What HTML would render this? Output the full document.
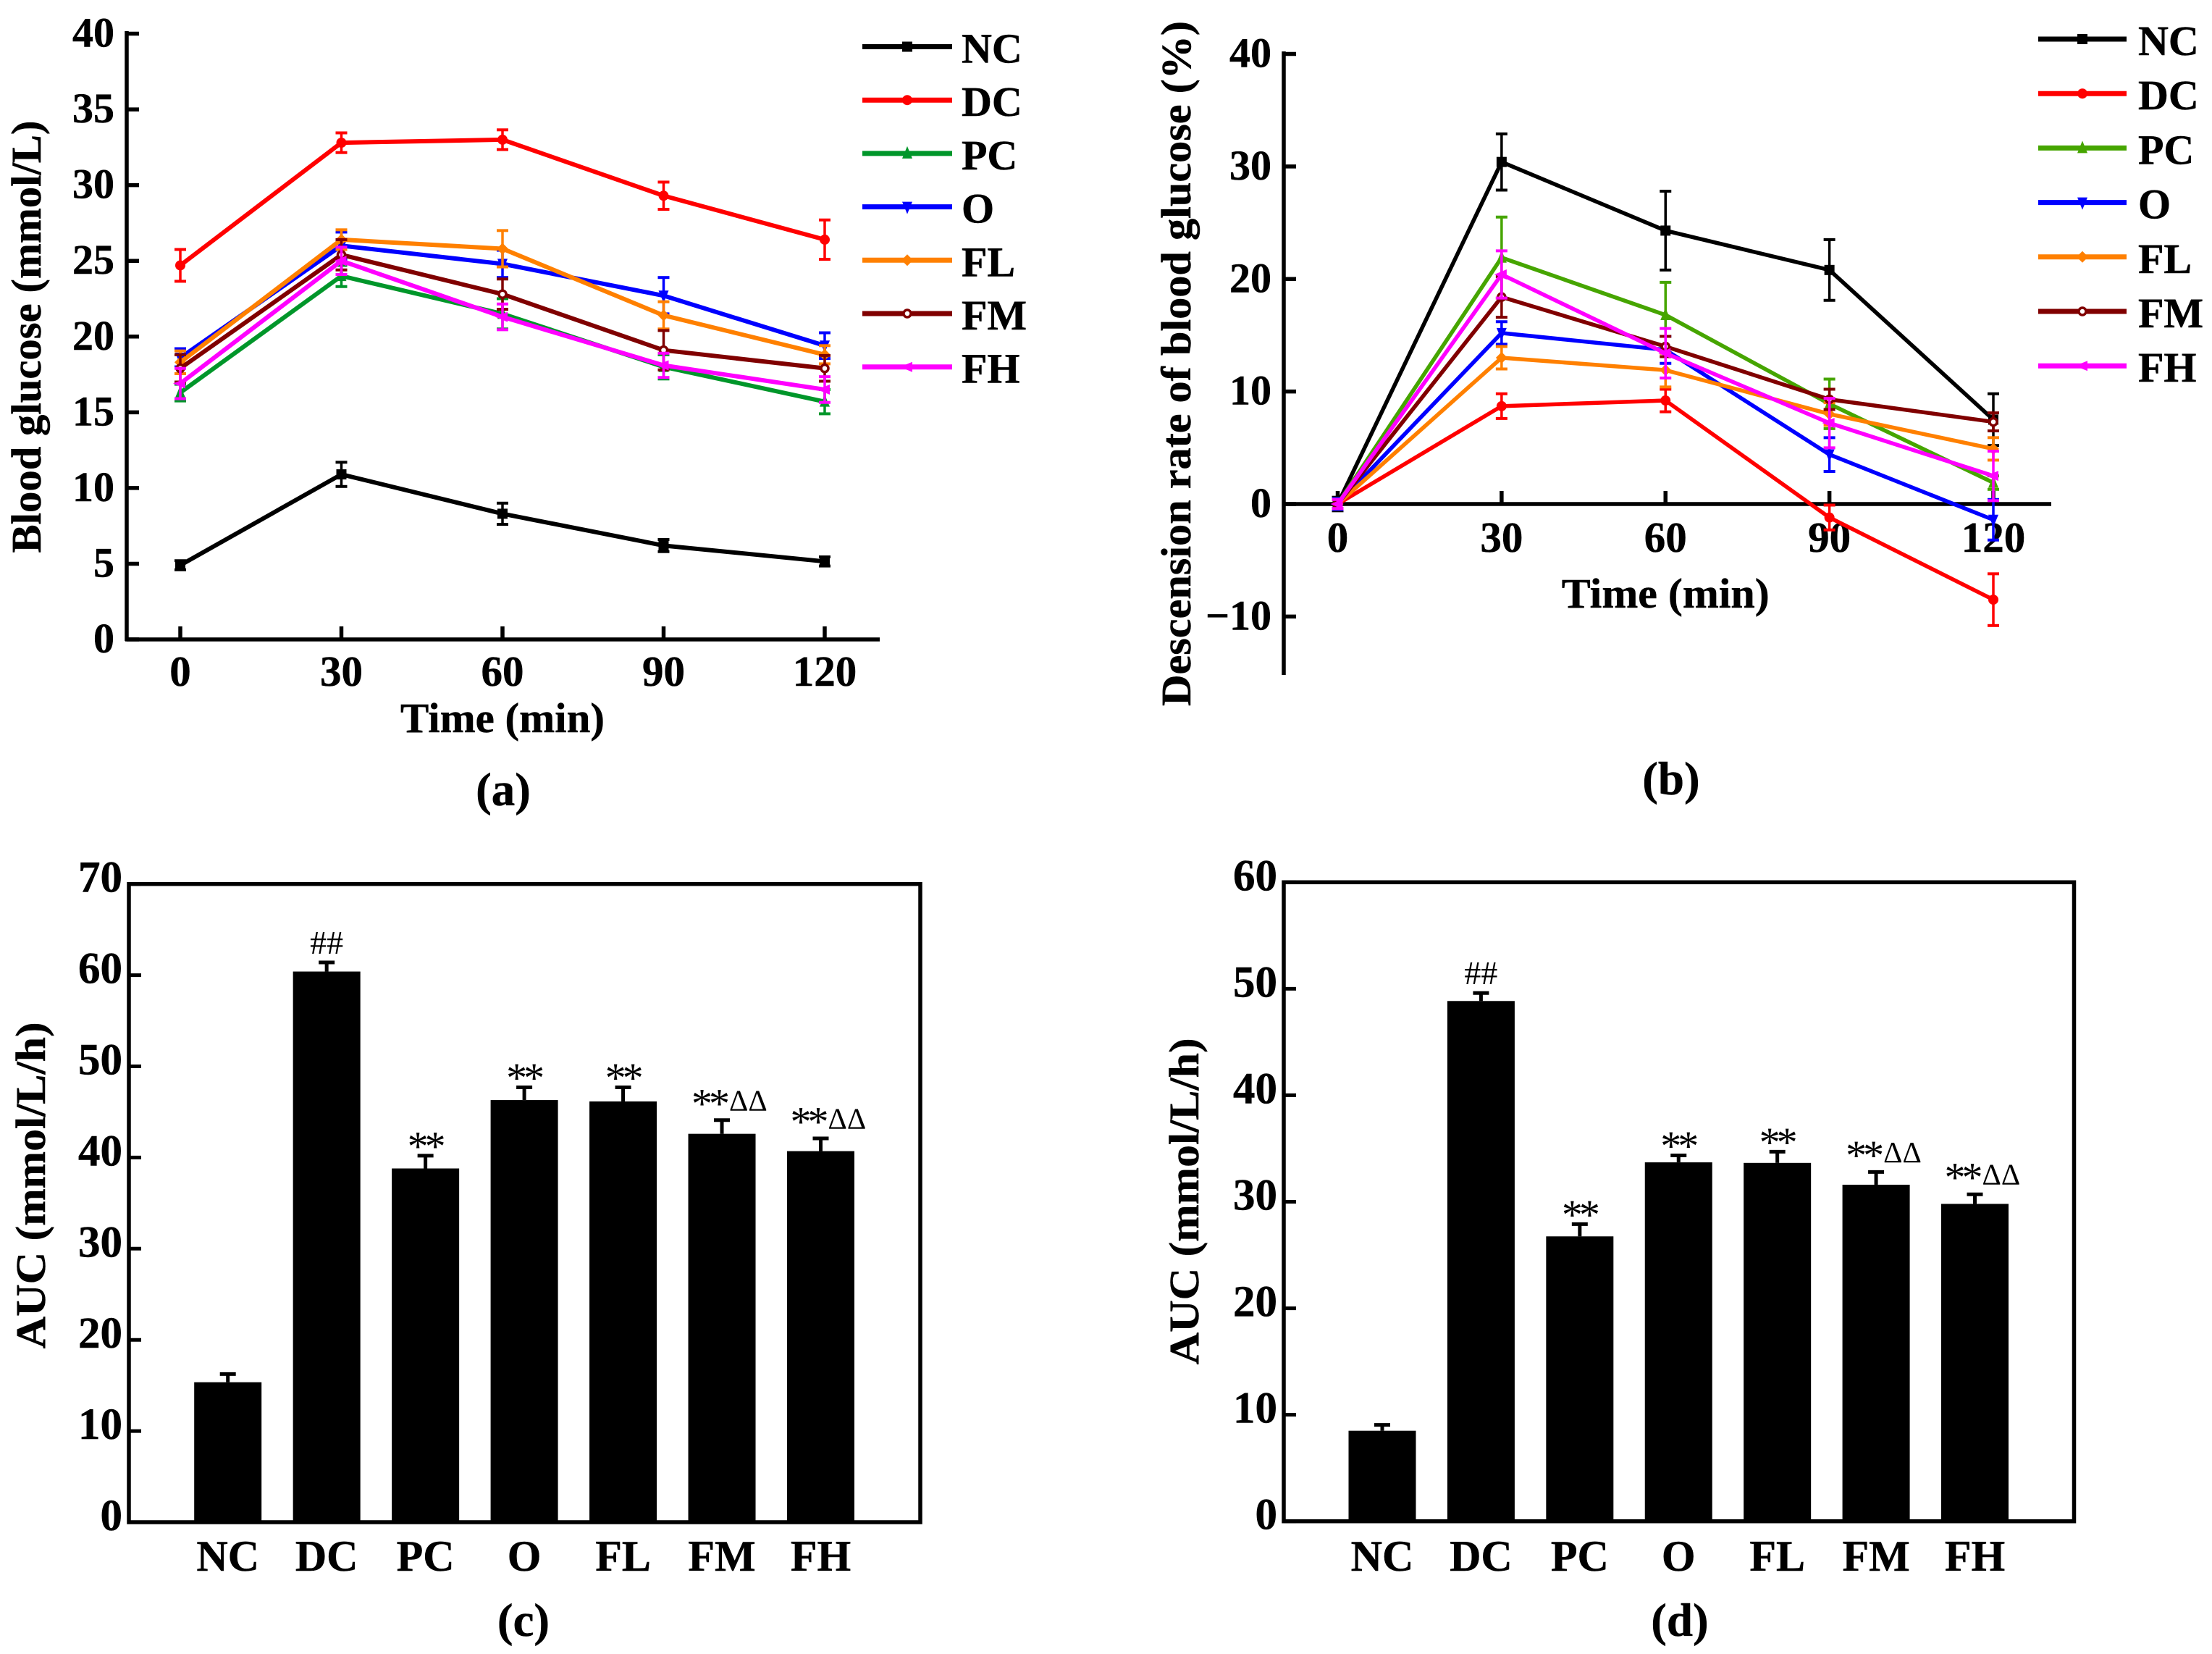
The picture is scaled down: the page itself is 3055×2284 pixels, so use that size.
<!DOCTYPE html>
<html lang="en">
<head>
<meta charset="utf-8">
<title>Blood glucose and AUC charts</title>
<style>
html,body{margin:0;padding:0;background:#fff;}
svg{display:block;}
text{font-family:"Liberation Serif",serif;fill:#000;}
.b{font-weight:bold;stroke:#000;stroke-width:0.5px;}
</style>
</head>
<body>
<svg id="fig" xmlns="http://www.w3.org/2000/svg" width="3055" height="2284" viewBox="0 0 3055 2284"></svg>
<script>
// ---------- data ----------
const timePoints = [0, 30, 60, 90, 120];
const seriesNames = ['NC', 'DC', 'PC', 'O', 'FL', 'FM', 'FH'];
const markerTypes = ['square', 'circle', 'up', 'down', 'diamond', 'open', 'left'];

const ticksA = [0, 5, 10, 15, 20, 25, 30, 35, 40];
const glucoseNC = [4.9, 10.9, 8.3, 6.2, 5.15];
const glucoseDC = [24.7, 32.8, 33.0, 29.3, 26.4];
const glucosePC = [16.3, 24.0, 21.5, 18.0, 15.7];
const glucoseO  = [18.6, 26.0, 24.8, 22.7, 19.4];
const glucoseFL = [18.3, 26.4, 25.8, 21.4, 18.8];
const glucoseFM = [17.9, 25.4, 22.8, 19.1, 17.9];
const glucoseFH = [16.9, 25.0, 21.3, 18.1, 16.5];
const glucoseErrNC = [0.3, 0.8, 0.7, 0.4, 0.3];
const glucoseErrDC = [1.05, 0.65, 0.65, 0.9, 1.3];
const glucoseErrPC = [0.55, 0.7, 1.0, 0.8, 0.8];
const glucoseErrO  = [0.6, 0.9, 0.9, 1.2, 0.85];
const glucoseErrFL = [0.75, 0.65, 1.2, 0.9, 0.6];
const glucoseErrFM = [0.9, 1.0, 1.0, 1.3, 0.85];
const glucoseErrFH = [1.0, 0.9, 0.85, 0.8, 0.85];

const ticksB = [-10, 0, 10, 20, 30, 40];
const rateNC = [0, 30.4, 24.3, 20.8, 7.5];
const rateDC = [0, 8.7, 9.2, -1.2, -8.5];
const ratePC = [0, 21.9, 16.8, 8.9, 1.9];
const rateO  = [0, 15.2, 13.7, 4.4, -1.4];
const rateFL = [0, 13.0, 11.9, 8.0, 4.9];
const rateFM = [0, 18.4, 14.0, 9.3, 7.3];
const rateFH = [0, 20.4, 13.4, 7.2, 2.5];
const rateErrNC = [0.6, 2.5, 3.5, 2.7, 2.3];
const rateErrDC = [0.5, 1.1, 1.0, 1.1, 2.3];
const rateErrPC = [0.5, 3.6, 2.9, 2.2, 0.6];
const rateErrO  = [0.5, 1.0, 1.2, 1.5, 1.8];
const rateErrFL = [0.4, 1.0, 1.5, 1.0, 1.0];
const rateErrFM = [0.4, 1.8, 0.9, 0.9, 0.8];
const rateErrFH = [0.4, 2.1, 2.2, 2.2, 2.2];

const ticksC = [0, 10, 20, 30, 40, 50, 60, 70];
const aucC = [15.35, 60.4, 38.8, 46.3, 46.15, 42.6, 40.7];
const aucCUpper = [16.25, 61.4, 40.2, 47.7, 47.7, 44.1, 42.1];
const ticksD = [0, 10, 20, 30, 40, 50, 60];
const aucD = [8.5, 48.85, 26.75, 33.7, 33.65, 31.6, 29.8];
const aucDUpper = [9.05, 49.6, 27.9, 34.35, 34.7, 32.8, 30.7];
const marks = ['', '##', '**', '**', '**', '**\u0394\u0394', '**\u0394\u0394'];

const coloursA = ['#000000', '#ff0000', '#00962a', '#0000ff', '#ff8000', '#800000', '#ff00ff'];
const coloursB = ['#000000', '#ff0000', '#46a500', '#0000ff', '#ff8000', '#800000', '#ff00ff'];

// ---------- helpers ----------
const NS = 'http://www.w3.org/2000/svg';
const fig = document.getElementById('fig');
function make(tag, attrs, parent, content) {
  const el = document.createElementNS(NS, tag);
  for (const k in attrs) el.setAttribute(k, attrs[k]);
  if (content !== undefined) el.textContent = content;
  (parent || fig).appendChild(el);
  return el;
}
function label(parent, name, x, y, str, size, anchor, bold, extra) {
  const attrs = Object.assign({x: x, y: y, 'font-size': size, 'text-anchor': anchor}, extra || {});
  if (bold) attrs['class'] = 'b';
  const el = make('text', attrs, parent, str);
  
  
  return el;
}
function line(parent, name, x1, y1, x2, y2, color, w) {
  const el = make('line', {x1: x1, y1: y1, x2: x2, y2: y2, stroke: color, 'stroke-width': w}, parent);
  
  
  return el;
}
function verticalTitle(parent, name, x, cy, str, len, size) {
  return label(parent, name, 0, 0, str, size, 'middle', true, {
    transform: 'translate(' + x + ',' + cy + ') rotate(-90)',
    textLength: len, lengthAdjust: 'spacingAndGlyphs'
  });
}
function marker(parent, name, type, x, y, color) {
  const r = 7;
  let el;
  if (type === 'square') {
    el = make('rect', {x: x - r, y: y - r, width: 2 * r, height: 2 * r, fill: color}, parent);
  } else if (type === 'circle') {
    el = make('circle', {cx: x, cy: y, r: r, fill: color}, parent);
  } else if (type === 'open') {
    el = make('circle', {cx: x, cy: y, r: 5, fill: '#fff', stroke: color, 'stroke-width': 3.5}, parent);
  } else {
    const shapes = {
      up: [[0, -r - 3], [r, r], [-r, r]],
      down: [[0, r + 3], [r, -r], [-r, -r]],
      left: [[-r - 3, 0], [r, -r], [r, r]],
      diamond: [[0, -r - 1], [r + 1, 0], [0, r + 1], [-r - 1, 0]]
    };
    const pts = shapes[type].map(p => (x + p[0]) + ',' + (y + p[1])).join(' ');
    el = make('polygon', {points: pts, fill: color}, parent);
  }
  
  
  return el;
}

// ---------- line chart ----------
function lineChart(cfg) {
  const g = make('g', {}, fig);
  
  
  const xS = t => cfg.x0 + (t - timePoints[0]) / (timePoints[4] - timePoints[0]) * (cfg.x1 - cfg.x0);
  const yS = v => cfg.yRef + (v - cfg.vRef) * cfg.pxPerUnit * -1;

  // axes
  line(g, 'y-axis', cfg.axisX, cfg.axisTop - 3, cfg.axisX, cfg.axisBottom, '#000', 5.5);
  line(g, 'x-axis', cfg.axisX - 2, cfg.baseY, cfg.axisEnd, cfg.baseY, '#000', 5.5);
  cfg.ticks.forEach(t => {
    line(g, 'y-tick', cfg.axisX, yS(t), cfg.axisX + 17, yS(t), '#000', 5.5);
    const str = t < 0 ? '\u2212' + Math.abs(t) : String(t);
    label(g, 'y-tick-label', cfg.axisX - 17, yS(t) + 18, str, 58, 'end', true);
  });
  timePoints.forEach(t => {
    line(g, 'x-tick', xS(t), cfg.baseY, xS(t), cfg.baseY - 18, '#000', 5.5);
    label(g, 'x-tick-label', xS(t), cfg.tickBase, String(t), 59, 'middle', true);
  });
  label(g, 'x-axis-title', (cfg.x0 + cfg.x1) / 2, cfg.xTitleBase, 'Time (min)', 58, 'middle', true, {textLength: cfg.xTitleLen, lengthAdjust: 'spacingAndGlyphs'});
  verticalTitle(g, 'y-axis-title', cfg.yTitleX, cfg.yTitleCy, cfg.yTitle, cfg.yTitleLen, 58);
  label(g, 'panel-label', cfg.panelX, cfg.panelBase, cfg.panel, 65, 'middle', true);

  // series
  seriesNames.forEach((s, i) => {
    const sg = make('g', {}, g);
    
    
    const vals = cfg.values[i], errs = cfg.errors[i], c = cfg.colours[i];
    timePoints.forEach((t, j) => {
      const up = yS(vals[j] + errs[j]), dn = yS(vals[j] - errs[j]), x = xS(t);
      line(sg, 'error-bar', x, up, x, dn, c, 3.5);
      line(sg, 'error-cap', x - 8, up, x + 8, up, c, 4);
      line(sg, 'error-cap', x - 8, dn, x + 8, dn, c, 4);
    });
    const path = make('polyline', {
      points: timePoints.map((t, j) => xS(t) + ',' + yS(vals[j])).join(' '),
      fill: 'none', stroke: c, 'stroke-width': cfg.lineWidth, 'stroke-linejoin': 'round'
    }, sg);
    
    
    timePoints.forEach((t, j) => marker(sg, 'point-' + s, markerTypes[i], xS(t), yS(vals[j]), c));

    // legend
    const ly = cfg.legY + i * cfg.legStep;
    const lg = make('g', {}, g);
    
    
    line(lg, 'legend-line', cfg.legX0, ly, cfg.legX1, ly, c, 7);
    marker(lg, 'legend-marker', markerTypes[i], (cfg.legX0 + cfg.legX1) / 2, ly, c);
    label(lg, 'legend-label', cfg.legTextX, ly + 22, s, 58, 'start', true);
  });
}

lineChart({
  name: 'panel-a-blood-glucose', panel: '(a)', panelX: 695, panelBase: 1112,
  x0: 249, x1: 1139, axisX: 175, axisTop: 46, axisBottom: 885, axisEnd: 1215, baseY: 883,
  yRef: 883, vRef: 0, pxPerUnit: (883 - 46.5) / 40, ticks: ticksA, tickBase: 947,
  xTitleBase: 1011, xTitleLen: 282, yTitle: 'Blood glucose (mmol/L)', yTitleX: 56, yTitleCy: 465, yTitleLen: 597,
  values: [glucoseNC, glucoseDC, glucosePC, glucoseO, glucoseFL, glucoseFM, glucoseFH],
  errors: [glucoseErrNC, glucoseErrDC, glucoseErrPC, glucoseErrO, glucoseErrFL, glucoseErrFM, glucoseErrFH],
  colours: coloursA, lineWidth: 6,
  legX0: 1191, legX1: 1315, legY: 64.5, legStep: 73.7, legTextX: 1328
});

lineChart({
  name: 'panel-b-descension-rate', panel: '(b)', panelX: 2308, panelBase: 1097,
  x0: 1847.5, x1: 2753, axisX: 1773, axisTop: 74, axisBottom: 932, axisEnd: 2833, baseY: 696,
  yRef: 696, vRef: 0, pxPerUnit: (696 - 74.5) / 40, ticks: ticksB, tickBase: 762,
  xTitleBase: 839, xTitleLen: 287, yTitle: 'Descension rate of blood glucose (%)', yTitleX: 1644, yTitleCy: 502, yTitleLen: 946,
  values: [rateNC, rateDC, ratePC, rateO, rateFL, rateFM, rateFH],
  errors: [rateErrNC, rateErrDC, rateErrPC, rateErrO, rateErrFL, rateErrFM, rateErrFH],
  colours: coloursB, lineWidth: 5.5,
  legX0: 2815, legX1: 2937, legY: 54, legStep: 75.2, legTextX: 2953
});

// ---------- bar chart ----------
function barChart(cfg) {
  const g = make('g', {}, fig);
  
  
  const step = (cfg.lastX - cfg.firstX) / (seriesNames.length - 1);
  const xS = i => cfg.firstX + i * step;
  const yS = v => cfg.bottom - v / cfg.max * (cfg.bottom - cfg.top);
  const frame = make('rect', {x: cfg.left, y: cfg.top, width: cfg.right - cfg.left, height: cfg.bottom - cfg.top, fill: 'none', stroke: '#000', 'stroke-width': 5.5}, g);
  
  
  cfg.ticks.forEach(t => {
    line(g, 'y-tick', cfg.left, yS(t), cfg.left + 17, yS(t), '#000', 5);
    label(g, 'y-tick-label', cfg.left - 9, yS(t) + 11, String(t), 61, 'end', true);
  });
  seriesNames.forEach((s, i) => {
    const x = xS(i);
    const bar = make('rect', {x: x - 46.5, y: yS(cfg.values[i]), width: 93, height: cfg.bottom - yS(cfg.values[i]), fill: '#000'}, g);
    
    
    const up = yS(cfg.upper[i]);
    line(g, 'error-bar', x, up, x, yS(cfg.values[i]), '#000', 5);
    line(g, 'error-cap', x - 11, up, x + 11, up, '#000', 5);
    label(g, 'category-label', x, cfg.catBase, s, 60, 'middle', true);
    const m = marks[i];
    if (m === '##') {
      label(g, 'significance-mark', x, up - 12, m, 46, 'middle', false);
    } else if (m === '**') {
      label(g, 'significance-mark', x - 25, up + 6.5, m, 58, 'start', false, {'letter-spacing': '-5'});
    } else if (m) {
      const el = label(g, 'significance-mark', x - 42, up - 3.5, '', 58, 'start', false);
      const stars = make('tspan', {'letter-spacing': '-5'}, el, m.slice(0, 2));
      
      
      const deltas = make('tspan', {'font-size': 41, dx: 4, dy: -10}, el, m.slice(2));
      
      
    }
  });
  verticalTitle(g, 'y-axis-title', cfg.titleX, cfg.titleCy, 'AUC (mmol/L/h)', 451, 58);
  label(g, 'panel-label', cfg.panelX, 2259, cfg.panel, 65, 'middle', true);
}

barChart({
  name: 'panel-c-auc', panel: '(c)', panelX: 723,
  left: 178, right: 1271, top: 1220.7, bottom: 2102, max: 70, ticks: ticksC,
  firstX: 314.7, lastX: 1133.5, values: aucC, upper: aucCUpper, catBase: 2169,
  titleX: 62, titleCy: 1637
});
barChart({
  name: 'panel-d-auc', panel: '(d)', panelX: 2320,
  left: 1773, right: 2864.5, top: 1218.3, bottom: 2100.7, max: 60, ticks: ticksD,
  firstX: 1909, lastX: 2727.5, values: aucD, upper: aucDUpper, catBase: 2169,
  titleX: 1655, titleCy: 1659
});
</script>
</body>
</html>
